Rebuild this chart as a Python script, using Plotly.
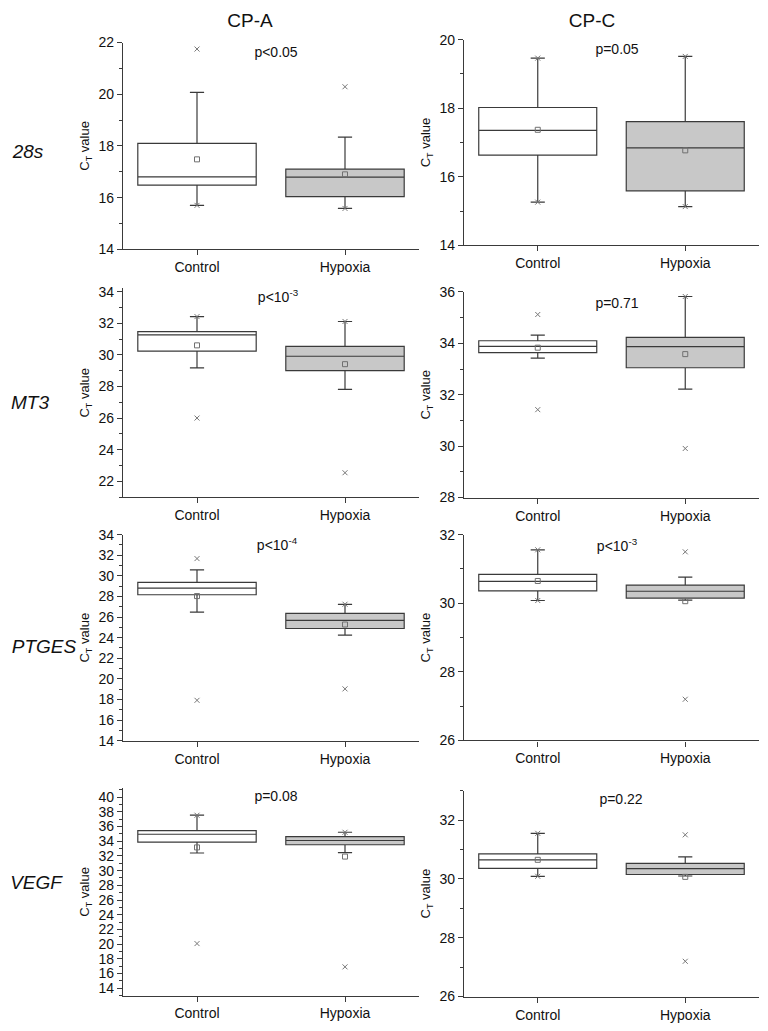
import plotly.graph_objects as go

# The page body has an 8px default margin on every side; size the figure so
# that it fits the 768x1031 window exactly and page pixels match the reference.
OFF = 8
W, H = 768 - 2 * OFF, 1031 - 2 * OFF

genes = ["28s", "MT3", "PTGES", "VEGF"]
regions = ["CP-A", "CP-C"]
groups = ["Control", "Hypoxia"]

# panel order: (28s,CP-A),(28s,CP-C),(MT3,CP-A),(MT3,CP-C),(PTGES,CP-A),(PTGES,CP-C),(VEGF,CP-A),(VEGF,CP-C)
p_labels = ["p<0.05", "p=0.05", "p<10<sup>-3</sup>", "p=0.71",
            "p<10<sup>-4</sup>", "p<10<sup>-3</sup>", "p=0.08", "p=0.22"]

# [Control, Hypoxia] per panel
lower_whisker = [[15.70, 15.58], [15.26, 15.13], [29.18, 27.81], [33.42, 32.22],
                 [26.48, 24.25], [30.08, 30.09], [32.40, 32.45], [30.09, 30.10]]
q1_vals = [[16.48, 16.04], [16.63, 15.59], [30.24, 29.00], [33.64, 33.05],
           [28.17, 24.89], [30.36, 30.15], [33.88, 33.52], [30.36, 30.15]]
median_vals = [[16.80, 16.79], [17.35, 16.84], [31.26, 29.91], [33.88, 33.87],
               [28.81, 25.69], [30.64, 30.35], [34.95, 34.10], [30.65, 30.35]]
q3_vals = [[18.10, 17.10], [18.02, 17.61], [31.47, 30.53], [34.10, 34.23],
           [29.38, 26.36], [30.84, 30.53], [35.44, 34.64], [30.85, 30.53]]
upper_whisker = [[20.07, 18.34], [19.46, 19.51], [32.42, 32.11], [34.32, 35.82],
                 [30.59, 27.24], [31.56, 30.76], [37.54, 35.22], [31.55, 30.75]]
mean_vals = [[17.48, 16.90], [17.37, 16.77], [30.60, 29.41], [33.83, 33.58],
             [28.04, 25.28], [30.65, 30.06], [33.16, 31.91], [30.65, 30.07]]
# extreme points (x markers)
extreme_control = [[21.75, 15.70], [19.46, 15.26], [32.42, 26.00], [35.12, 31.42],
                   [31.68, 17.92], [31.56, 30.08], [37.54, 20.07], [31.55, 30.09]]
extreme_hypoxia = [[20.29, 15.58], [19.51, 15.13], [32.11, 22.54], [35.82, 29.91],
                   [27.25, 19.03], [31.50, 27.20], [35.22, 16.90], [31.50, 27.20]]

y_ranges = [[14, 22], [14, 20], [21, 34.2], [28, 36],
            [14, 34], [26, 32], [13, 41.2], [26, 33]]

# layout geometry (page pixels)
x_px = [(123, 419), (464, 759)]
y_px = [(35, 245), (32, 241), (284.8, 496.8), (288.3, 497.3),
        (535, 744.3), (535, 744), (792.7, 1003.2), (795.1, 1004.3)]
p_pos = [(276, 46), (617, 43), (278, 295), (617, 301),
         (277, 547), (617, 548), (276, 802), (621, 805)]
title_pos = [(250, 14), (592, 14)]
label_pos = [(28, 147), (30, 402), (44, 650), (36, 890)]


def fx(px):
    return (px - OFF) / W


def fy(py):
    return 1 - (py - OFF) / H


FONT = "Liberation Sans, Arial, sans-serif"
LINE = "#3a3a3a"
TXT = "#111111"
fills = ["#ffffff", "#c8c8c8"]

fig = go.Figure()
layout = dict(width=W, height=H, margin=dict(l=0, r=0, t=0, b=0),
              paper_bgcolor="white", plot_bgcolor="rgba(0,0,0,0)",
              showlegend=False, font=dict(family=FONT, size=14, color=TXT))

for i in range(8):
    col = i % 2
    n = i + 1
    xa = "x" if n == 1 else f"x{n}"
    ya = "y" if n == 1 else f"y{n}"
    for g in range(2):
        fig.add_trace(go.Box(
            x=[groups[g]], q1=[q1_vals[i][g]], median=[median_vals[i][g]],
            q3=[q3_vals[i][g]], lowerfence=[lower_whisker[i][g]],
            upperfence=[upper_whisker[i][g]],
            width=0.8, whiskerwidth=0.12, fillcolor=fills[g],
            line=dict(color=LINE, width=1.2), boxpoints=False,
            xaxis=xa, yaxis=ya, hoverinfo="skip"))
        fig.add_trace(go.Scatter(
            x=[groups[g]], y=[mean_vals[i][g]], mode="markers",
            marker=dict(symbol="square-open", size=5, color="#707070",
                        line=dict(width=1, color="#707070")),
            xaxis=xa, yaxis=ya, hoverinfo="skip"))
        ext = extreme_control[i] if g == 0 else extreme_hypoxia[i]
        fig.add_trace(go.Scatter(
            x=[groups[g]] * len(ext), y=ext, mode="markers",
            marker=dict(symbol="x-thin-open", size=5, color="#777",
                        line=dict(width=1, color="#777")),
            xaxis=xa, yaxis=ya, hoverinfo="skip"))

    x0, x1 = x_px[col]
    ytop, ybot = y_px[i]
    xkey = "xaxis" if n == 1 else f"xaxis{n}"
    ykey = "yaxis" if n == 1 else f"yaxis{n}"
    layout[xkey] = dict(domain=[fx(x0), fx(x1)], anchor=ya, type="category",
                        categoryorder="array", categoryarray=groups,
                        range=[-0.5, 1.5], showline=True, linecolor=LINE,
                        linewidth=1.3, ticks="outside", ticklen=5,
                        tickcolor=LINE, showgrid=False, zeroline=False,
                        tickfont=dict(size=14, family=FONT, color=TXT))
    layout[ykey] = dict(domain=[fy(ybot), fy(ytop)], anchor=xa,
                        range=y_ranges[i], showline=True, linecolor=LINE,
                        linewidth=1.3, ticks="outside", ticklen=5,
                        tickcolor=LINE, dtick=2, showgrid=False,
                        zeroline=False,
                        minor=dict(ticks="outside", ticklen=3, dtick=1,
                                   tickcolor=LINE, showgrid=False),
                        tickfont=dict(size=14, family=FONT, color=TXT),
                        title=dict(text="C<sub>T</sub> value", standoff=5,
                                   font=dict(size=13, family=FONT, color=TXT)))

# overlay axis in page-pixel units for free text
layout["xaxis9"] = dict(domain=[0, 1], range=[OFF, OFF + W], visible=False,
                        fixedrange=True, anchor="y9")
layout["yaxis9"] = dict(domain=[0, 1], range=[OFF + H, OFF], visible=False,
                        fixedrange=True, anchor="x9")


def add_text(xs, ys, texts, size):
    fig.add_trace(go.Scatter(
        x=xs, y=ys, text=texts, mode="text", textposition="middle center",
        textfont=dict(size=size, family=FONT, color=TXT),
        xaxis="x9", yaxis="y9", hoverinfo="skip", cliponaxis=False))


add_text([p[0] for p in p_pos], [p[1] for p in p_pos], p_labels, 14)
add_text([p[0] for p in title_pos], [p[1] for p in title_pos], regions, 19)
add_text([p[0] for p in label_pos], [p[1] for p in label_pos],
         [f"<i>{g}</i>" for g in genes], 19)

fig.update_layout(**layout)
fig.write_html("out.html")
